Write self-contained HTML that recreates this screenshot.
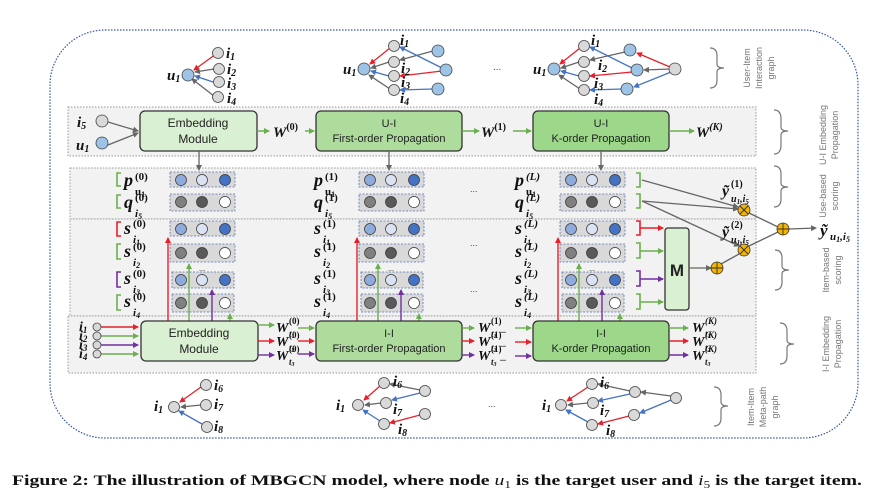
<!DOCTYPE html>
<html><head><meta charset="utf-8"><style>
html,body{margin:0;padding:0;background:#fff;}
svg{display:block;}
.m{font-family:"Liberation Serif",serif;font-weight:bold;font-style:italic;fill:#111;}
.n{font-family:"Liberation Serif",serif;font-weight:bold;fill:#111;}
.sf{font-family:"Liberation Sans",sans-serif;}
.lab{font-family:"Liberation Sans",sans-serif;font-size:9px;fill:#777;}
</style></head><body>
<svg width="875" height="499" viewBox="0 0 875 499" xmlns="http://www.w3.org/2000/svg">
<defs>
<marker id="ag" markerWidth="6" markerHeight="6" refX="5" refY="3" orient="auto" markerUnits="userSpaceOnUse"><path d="M0,0 L6,3 L0,6z" fill="#666"/></marker>
<marker id="ar" markerWidth="6" markerHeight="6" refX="5" refY="3" orient="auto" markerUnits="userSpaceOnUse"><path d="M0,0 L6,3 L0,6z" fill="#e8202a"/></marker>
<marker id="ab" markerWidth="6" markerHeight="6" refX="5" refY="3" orient="auto" markerUnits="userSpaceOnUse"><path d="M0,0 L6,3 L0,6z" fill="#4472c4"/></marker>
<marker id="an" markerWidth="6" markerHeight="6" refX="5" refY="3" orient="auto" markerUnits="userSpaceOnUse"><path d="M0,0 L6,3 L0,6z" fill="#6ab04c"/></marker>
<marker id="ap" markerWidth="6" markerHeight="6" refX="5" refY="3" orient="auto" markerUnits="userSpaceOnUse"><path d="M0,0 L6,3 L0,6z" fill="#7030a0"/></marker>
</defs>

<rect x="50" y="30" width="808" height="408" rx="55" fill="none" stroke="#3355aa" stroke-width="1.2" stroke-dasharray="1.5,1.5"/>

<g fill="#f2f2f2" stroke="#999" stroke-dasharray="1.5,1.5" stroke-width="1">
<rect x="68" y="107" width="688" height="49"/>
<rect x="70" y="168" width="686" height="51"/>
<rect x="70" y="219" width="686" height="97"/>
<rect x="68" y="316" width="688" height="57"/>
</g>

<!-- top graphs -->
<g stroke-width="1.3" fill="none">
<line x1="216" y1="54" x2="194" y2="70" stroke="#e8202a" marker-end="url(#ar)"/>
<line x1="214" y1="69" x2="195" y2="72" stroke="#666" marker-end="url(#ag)"/>
<line x1="213" y1="82" x2="195" y2="76" stroke="#4472c4" marker-end="url(#ab)"/>
<line x1="214" y1="96" x2="192" y2="79" stroke="#666" marker-end="url(#ag)"/>
<line x1="390" y1="48" x2="370" y2="64" stroke="#e8202a" marker-end="url(#ar)"/>
<line x1="389" y1="62" x2="371" y2="68" stroke="#666" marker-end="url(#ag)"/>
<line x1="389" y1="76" x2="371" y2="71" stroke="#4472c4" marker-end="url(#ab)"/>
<line x1="390" y1="89" x2="369" y2="75" stroke="#666" marker-end="url(#ag)"/>
<line x1="433" y1="51" x2="400" y2="60" stroke="#666" marker-end="url(#ag)"/>
<line x1="442" y1="68" x2="400" y2="47" stroke="#4472c4" marker-end="url(#ab)"/>
<line x1="442" y1="71" x2="400" y2="76" stroke="#e8202a" marker-end="url(#ar)"/>
<line x1="433" y1="89" x2="400" y2="90" stroke="#4472c4" marker-end="url(#ab)"/>
<line x1="580" y1="48" x2="560" y2="64" stroke="#e8202a" marker-end="url(#ar)"/>
<line x1="579" y1="62" x2="561" y2="68" stroke="#666" marker-end="url(#ag)"/>
<line x1="579" y1="76" x2="561" y2="71" stroke="#4472c4" marker-end="url(#ab)"/>
<line x1="580" y1="89" x2="559" y2="75" stroke="#666" marker-end="url(#ag)"/>
<line x1="625" y1="52" x2="590" y2="60" stroke="#666" marker-end="url(#ag)"/>
<line x1="632" y1="68" x2="590" y2="47" stroke="#4472c4" marker-end="url(#ab)"/>
<line x1="632" y1="72" x2="590" y2="76" stroke="#e8202a" marker-end="url(#ar)"/>
<line x1="622" y1="89" x2="590" y2="90" stroke="#4472c4" marker-end="url(#ab)"/>
<line x1="670" y1="67" x2="637" y2="53" stroke="#e8202a" marker-end="url(#ar)"/>
<line x1="670" y1="69" x2="644" y2="70" stroke="#666" marker-end="url(#ag)"/>
<line x1="671" y1="72" x2="634" y2="87" stroke="#4472c4" marker-end="url(#ab)"/>
</g>
<g stroke="#444" stroke-width="0.8">
<circle cx="188" cy="75" r="6" fill="#9dc3e6"/>
<circle cx="218" cy="53" r="5.5" fill="#d9d9d9"/><circle cx="219" cy="69" r="5.5" fill="#d9d9d9"/><circle cx="219" cy="82" r="5.5" fill="#d9d9d9"/><circle cx="218" cy="97" r="5.5" fill="#d9d9d9"/>
<circle cx="364" cy="69" r="6" fill="#9dc3e6"/>
<circle cx="394" cy="46" r="5.5" fill="#d9d9d9"/><circle cx="394" cy="62" r="5.5" fill="#d9d9d9"/><circle cx="394" cy="76" r="5.5" fill="#d9d9d9"/><circle cx="394" cy="90" r="5.5" fill="#d9d9d9"/>
<circle cx="438" cy="51" r="6" fill="#9dc3e6"/><circle cx="446" cy="70" r="6" fill="#9dc3e6"/><circle cx="438" cy="89" r="6" fill="#9dc3e6"/>
<circle cx="554" cy="69" r="6" fill="#9dc3e6"/>
<circle cx="584" cy="46" r="5.5" fill="#d9d9d9"/><circle cx="584" cy="62" r="5.5" fill="#d9d9d9"/><circle cx="584" cy="76" r="5.5" fill="#d9d9d9"/><circle cx="584" cy="90" r="5.5" fill="#d9d9d9"/>
<circle cx="630" cy="50" r="6" fill="#9dc3e6"/><circle cx="637" cy="70" r="6" fill="#9dc3e6"/><circle cx="627" cy="89" r="6" fill="#9dc3e6"/>
<circle cx="675" cy="69" r="6" fill="#d9d9d9"/>
</g>
<g class="m" font-size="15">
<text x="226" y="58">i<tspan font-size="10" dy="2">1</tspan></text>
<text x="227" y="74">i<tspan font-size="10" dy="2">2</tspan></text>
<text x="227" y="88">i<tspan font-size="10" dy="2">3</tspan></text>
<text x="227" y="103">i<tspan font-size="10" dy="2">4</tspan></text>
<text x="167" y="80">u<tspan font-size="10" dy="2">1</tspan></text>
<text x="400" y="45">i<tspan font-size="10" dy="2">1</tspan></text>
<text x="401" y="73">i<tspan font-size="10" dy="2">2</tspan></text>
<text x="401" y="87">i<tspan font-size="10" dy="2">3</tspan></text>
<text x="400" y="103">i<tspan font-size="10" dy="2">4</tspan></text>
<text x="343" y="74">u<tspan font-size="10" dy="2">1</tspan></text>
<text x="591" y="45">i<tspan font-size="10" dy="2">1</tspan></text>
<text x="598" y="70">i<tspan font-size="10" dy="2">2</tspan></text>
<text x="594" y="88">i<tspan font-size="10" dy="2">3</tspan></text>
<text x="594" y="104">i<tspan font-size="10" dy="2">4</tspan></text>
<text x="533" y="74">u<tspan font-size="10" dy="2">1</tspan></text>
</g>
<text x="493" y="70" font-size="10" fill="#444" class="sf">...</text>

<!-- band1 -->
<g stroke="#666" stroke-width="1.3">
<line x1="108" y1="122" x2="138" y2="131" marker-end="url(#ag)"/>
<line x1="108" y1="145" x2="138" y2="133" marker-end="url(#ag)"/>
</g>
<circle cx="102" cy="121" r="6" fill="#d9d9d9" stroke="#444" stroke-width="0.8"/>
<circle cx="102" cy="143" r="6" fill="#9dc3e6" stroke="#444" stroke-width="0.8"/>
<g class="m" font-size="15"><text x="77" y="127">i<tspan font-size="10" dy="2">5</tspan></text><text x="76" y="150">u<tspan font-size="10" dy="2">1</tspan></text></g>
<g stroke="#333" stroke-width="1.3">
<rect x="140" y="111" width="117" height="40" rx="5" fill="#daf0d2"/>
<rect x="316" y="111" width="146" height="40" rx="5" fill="#addc9c"/>
<rect x="533" y="111" width="136" height="40" rx="5" fill="#9dd78a"/>
</g>
<g class="sf" font-size="11" text-anchor="middle" fill="#222">
<text x="198" y="127" font-size="12">Embedding</text><text x="198" y="143" font-size="12">Module</text>
<text x="389" y="127">U-I</text><text x="389" y="142">First-order Propagation</text>
<text x="601" y="127">U-I</text><text x="601" y="142">K-order Propagation</text>
</g>
<g stroke="#6ab04c" stroke-width="1.5">
<line x1="257" y1="131" x2="269" y2="131" marker-end="url(#an)"/>
<line x1="305" y1="131" x2="314" y2="131" marker-end="url(#an)"/>
<line x1="462" y1="131" x2="479" y2="131" marker-end="url(#an)"/>
<line x1="513" y1="131" x2="531" y2="131" marker-end="url(#an)"/>
<line x1="669" y1="131" x2="694" y2="131" marker-end="url(#an)"/>
</g>
<g class="m" font-size="15">
<text x="273" y="137">W<tspan font-size="10" dy="-7" font-style="normal">(0)</tspan></text>
<text x="481" y="137">W<tspan font-size="10" dy="-7" font-style="normal">(1)</tspan></text>
<text x="696" y="137">W<tspan font-size="10" dy="-7">(K)</tspan></text>
</g>
<g stroke="#666" stroke-width="1.3">
<line x1="199" y1="151" x2="199" y2="170" marker-end="url(#ag)"/>
<line x1="389" y1="151" x2="389" y2="170" marker-end="url(#ag)"/>
<line x1="601" y1="151" x2="601" y2="170" marker-end="url(#ag)"/>
</g>

<!-- vector boxes -->
<g id="vb">
<g fill="#d9d9d9" stroke="#5570b0" stroke-width="0.8" stroke-dasharray="2,1.5">
<rect x="170" y="172" width="65" height="15"/><rect x="170" y="194" width="65" height="17"/>
<rect x="170" y="221" width="65" height="15"/><rect x="170" y="244" width="65" height="18"/>
<rect x="172" y="272" width="62" height="16"/><rect x="172" y="294" width="62" height="18"/>
</g>
<g stroke="#333" stroke-width="0.7">
<circle cx="181" cy="180" r="5.5" fill="#8faadc"/><circle cx="202" cy="180" r="5.5" fill="#dae3f3"/><circle cx="225" cy="180" r="5.5" fill="#4472c4"/>
<circle cx="181" cy="202" r="5.5" fill="#808080"/><circle cx="202" cy="202" r="5.5" fill="#595959"/><circle cx="225" cy="202" r="5.5" fill="#fff"/>
<circle cx="181" cy="229" r="5.5" fill="#8faadc"/><circle cx="202" cy="229" r="5.5" fill="#dae3f3"/><circle cx="225" cy="229" r="5.5" fill="#4472c4"/>
<circle cx="181" cy="253" r="5.5" fill="#808080"/><circle cx="202" cy="253" r="5.5" fill="#595959"/><circle cx="225" cy="253" r="5.5" fill="#fff"/>
<circle cx="181" cy="280" r="5.5" fill="#8faadc"/><circle cx="202" cy="280" r="5.5" fill="#dae3f3"/><circle cx="225" cy="280" r="5.5" fill="#4472c4"/>
<circle cx="181" cy="303" r="5.5" fill="#808080"/><circle cx="202" cy="303" r="5.5" fill="#595959"/><circle cx="225" cy="303" r="5.5" fill="#fff"/>
</g>
<text x="199" y="271" font-size="8" fill="#444">...</text>
<g stroke-width="1.4">
<line x1="168" y1="321" x2="168" y2="238" stroke="#e8202a" marker-end="url(#ar)"/>
<line x1="189" y1="321" x2="189" y2="264" stroke="#6ab04c" marker-end="url(#an)"/>
<line x1="212" y1="321" x2="212" y2="290" stroke="#7030a0" marker-end="url(#ap)"/>
<line x1="230" y1="321" x2="230" y2="314" stroke="#6ab04c" marker-end="url(#an)"/>
</g>
</g>
<use href="#vb" x="189" y="0"/>
<use href="#vb" x="390" y="0"/>

<!-- labels -->
<g id="lb">
<g class="m" font-size="18">
<text x="124" y="186">p</text><text x="124" y="208">q</text>
<text x="124" y="234">s</text><text x="124" y="257">s</text>
<text x="124" y="284">s</text><text x="124" y="307">s</text>
</g>
<g class="m" font-size="11">
<text x="135" y="195" font-style="normal">u<tspan font-size="8" dy="2">1</tspan></text><text x="135" y="217">i<tspan font-size="8" dy="2">5</tspan></text>
<text x="133" y="243">i<tspan font-size="8" dy="2">1</tspan></text><text x="133" y="266">i<tspan font-size="8" dy="2">2</tspan></text>
<text x="133" y="293">i<tspan font-size="8" dy="2">3</tspan></text><text x="133" y="316">i<tspan font-size="8" dy="2">4</tspan></text>
</g>
</g>
<use href="#lb" x="190" y="0"/>
<use href="#lb" x="391" y="0"/>
<g class="n" font-size="11">
<text x="135" y="180">(0)</text><text x="135" y="201">(0)</text><text x="133" y="227">(0)</text><text x="133" y="250">(0)</text><text x="133" y="277">(0)</text><text x="133" y="300">(0)</text>
<text x="325" y="180">(1)</text><text x="325" y="201">(1)</text><text x="323" y="227">(1)</text><text x="323" y="250">(1)</text><text x="323" y="277">(1)</text><text x="323" y="300">(1)</text>
</g>
<g class="m" font-size="11">
<text x="526" y="180">(L)</text><text x="526" y="201">(L)</text><text x="524" y="227">(L)</text><text x="524" y="250">(L)</text><text x="524" y="277">(L)</text><text x="524" y="300">(L)</text>
</g>
<g class="sf" font-size="9" fill="#444"><text x="470" y="192">...</text><text x="470" y="246">...</text><text x="470" y="292">...</text><text x="488" y="407">...</text></g>

<g fill="none" stroke-width="1.6">
<path d="M121,173 h-4 v13 h4" stroke="#6ab04c"/>
<path d="M121,195 h-4 v13 h4" stroke="#6ab04c"/>
<path d="M121,222 h-4 v14 h4" stroke="#e8202a"/>
<path d="M121,244 h-4 v15 h4" stroke="#6ab04c"/>
<path d="M121,272 h-4 v15 h4" stroke="#7030a0"/>
<path d="M121,295 h-4 v15 h4" stroke="#6ab04c"/>
<path d="M636,173 h4 v14 h-4" stroke="#6ab04c"/>
<path d="M636,194 h4 v14 h-4" stroke="#6ab04c"/>
<path d="M636,221 h4 v14 h-4" stroke="#e8202a"/>
<path d="M636,243 h4 v15 h-4" stroke="#6ab04c"/>
<path d="M636,271 h4 v15 h-4" stroke="#7030a0"/>
<path d="M636,294 h4 v15 h-4" stroke="#6ab04c"/>
</g>
<g stroke-width="1.4">
<line x1="640" y1="228" x2="663" y2="228" stroke="#e8202a" marker-end="url(#ar)"/>
<line x1="640" y1="251" x2="663" y2="251" stroke="#6ab04c" marker-end="url(#an)"/>
<line x1="640" y1="279" x2="663" y2="279" stroke="#7030a0" marker-end="url(#ap)"/>
<line x1="640" y1="302" x2="663" y2="302" stroke="#6ab04c" marker-end="url(#an)"/>
</g>
<rect x="665" y="228" width="24" height="82" rx="3" fill="#daf0d2" stroke="#333" stroke-width="1.3"/>
<text x="677" y="276" text-anchor="middle" class="sf" font-size="17" font-weight="bold" fill="#222">M</text>
<g stroke="#666" stroke-width="1.3" fill="none">
<line x1="642" y1="180" x2="738" y2="207" marker-end="url(#ag)"/>
<line x1="642" y1="201" x2="738" y2="209" marker-end="url(#ag)"/>
<line x1="642" y1="201" x2="739" y2="246" marker-end="url(#ag)"/>
<line x1="689" y1="268" x2="711" y2="268" marker-end="url(#ag)"/>
<line x1="721" y1="264" x2="739" y2="254"/>
<line x1="749" y1="213" x2="778" y2="227"/>
<line x1="749" y1="246" x2="778" y2="232"/>
<line x1="789" y1="229" x2="816" y2="228" marker-end="url(#ag)"/>
</g>
<g stroke="#333" stroke-width="0.8" fill="#f4b400">
<circle cx="744" cy="210" r="6"/><circle cx="744" cy="250" r="6"/><circle cx="717" cy="268" r="6"/><circle cx="783" cy="229" r="6"/>
</g>
<g stroke="#333" stroke-width="0.9">
<path d="M740,206 l8,8 M748,206 l-8,8 M740,246 l8,8 M748,246 l-8,8 M711,268 h12 M717,262 v12 M777,229 h12 M783,223 v12"/>
</g>
<g class="m">
<text x="722" y="196" font-size="16">ỹ</text><text x="731" y="187" font-size="10" font-style="normal">(1)</text><text x="731" y="202" font-size="10">u<tspan font-size="7" dy="2">1</tspan><tspan dy="-2">,i</tspan><tspan font-size="7" dy="2">5</tspan></text>
<text x="722" y="237" font-size="16">ỹ</text><text x="731" y="228" font-size="10" font-style="normal">(2)</text><text x="731" y="243" font-size="10">u<tspan font-size="7" dy="2">1</tspan><tspan dy="-2">,i</tspan><tspan font-size="7" dy="2">5</tspan></text>
<text x="820" y="236" font-size="17">ỹ</text><text x="830" y="240" font-size="11">u<tspan font-size="8" dy="2">1</tspan><tspan dy="-2">,i</tspan><tspan font-size="8" dy="2">5</tspan></text>
</g>

<!-- band4 -->
<g stroke-width="1.4">
<line x1="101" y1="327" x2="138" y2="327" stroke="#e8202a" marker-end="url(#ar)"/>
<line x1="101" y1="336" x2="138" y2="336" stroke="#6ab04c" marker-end="url(#an)"/>
<line x1="101" y1="345" x2="138" y2="345" stroke="#7030a0" marker-end="url(#ap)"/>
<line x1="101" y1="354" x2="138" y2="354" stroke="#6ab04c" marker-end="url(#an)"/>
</g>
<g fill="#d9d9d9" stroke="#444" stroke-width="0.8">
<circle cx="97" cy="327" r="4"/><circle cx="97" cy="336" r="4"/><circle cx="97" cy="345" r="4"/><circle cx="97" cy="354" r="4"/>
</g>
<g class="m" font-size="14">
<text x="79" y="331">i<tspan font-size="9" dy="2">1</tspan></text>
<text x="79" y="340">i<tspan font-size="9" dy="2">2</tspan></text>
<text x="79" y="349">i<tspan font-size="9" dy="2">3</tspan></text>
<text x="79" y="358">i<tspan font-size="9" dy="2">4</tspan></text>
</g>
<g stroke="#333" stroke-width="1.3">
<rect x="141" y="321" width="117" height="40" rx="5" fill="#daf0d2"/>
<rect x="316" y="321" width="146" height="40" rx="5" fill="#addc9c"/>
<rect x="533" y="321" width="136" height="40" rx="5" fill="#9dd78a"/>
</g>
<g class="sf" font-size="11" text-anchor="middle" fill="#222">
<text x="199" y="337" font-size="12">Embedding</text><text x="199" y="353" font-size="12">Module</text>
<text x="389" y="337">I-I</text><text x="389" y="352">First-order Propagation</text>
<text x="601" y="337">I-I</text><text x="601" y="352">K-order Propagation</text>
</g>
<g stroke-width="1.4">
<line x1="258" y1="325" x2="274" y2="325" stroke="#6ab04c" marker-end="url(#an)"/>
<line x1="258" y1="341" x2="274" y2="341" stroke="#e8202a" marker-end="url(#ar)"/>
<line x1="258" y1="355" x2="274" y2="355" stroke="#7030a0" marker-end="url(#ap)"/>
<line x1="298" y1="328" x2="314" y2="328" stroke="#6ab04c" marker-end="url(#an)"/>
<line x1="298" y1="341" x2="314" y2="341" stroke="#e8202a" marker-end="url(#ar)"/>
<line x1="298" y1="354" x2="314" y2="354" stroke="#7030a0" marker-end="url(#ap)"/>
<line x1="462" y1="328" x2="474" y2="328" stroke="#6ab04c" marker-end="url(#an)"/>
<line x1="462" y1="341" x2="474" y2="341" stroke="#e8202a" marker-end="url(#ar)"/>
<line x1="462" y1="355" x2="474" y2="355" stroke="#7030a0" marker-end="url(#ap)"/>
<line x1="515" y1="328" x2="531" y2="328" stroke="#6ab04c" marker-end="url(#an)"/>
<line x1="515" y1="342" x2="531" y2="342" stroke="#e8202a" marker-end="url(#ar)"/>
<line x1="515" y1="356" x2="531" y2="356" stroke="#7030a0" marker-end="url(#ap)"/>
<line x1="669" y1="328" x2="688" y2="328" stroke="#6ab04c" marker-end="url(#an)"/>
<line x1="669" y1="341" x2="688" y2="341" stroke="#e8202a" marker-end="url(#ar)"/>
<line x1="669" y1="355" x2="688" y2="355" stroke="#7030a0" marker-end="url(#ap)"/>
</g>
<g id="wl">
<g class="m" font-size="14"><text x="276" y="332">W</text><text x="276" y="346">W</text><text x="276" y="360">W</text></g>
<g class="m" font-size="9"><text x="289" y="337">t<tspan font-size="6" dy="1">1</tspan></text><text x="289" y="351">t<tspan font-size="6" dy="1">2</tspan></text><text x="289" y="365">t<tspan font-size="6" dy="1">3</tspan></text></g>
</g>
<use href="#wl" x="202" y="0"/>
<use href="#wl" x="416" y="0"/>
<g class="n" font-size="9">
<text x="289" y="324">(0)</text><text x="289" y="338">(0)</text><text x="289" y="352">(0)</text>
<text x="491" y="324">(1)</text><text x="491" y="338">(1)</text><text x="491" y="352">(1)</text>
</g>
<g class="n" font-size="8"><text x="500" y="333">...</text><text x="500" y="347">...</text><text x="500" y="361">...</text></g>
<g class="m" font-size="9"><text x="705" y="324">(K)</text><text x="705" y="338">(K)</text><text x="705" y="352">(K)</text></g>

<!-- bottom graphs -->
<g stroke-width="1.3">
<line x1="201" y1="387" x2="180" y2="402" stroke="#e8202a" marker-end="url(#ar)"/>
<line x1="201" y1="405" x2="181" y2="407" stroke="#666" marker-end="url(#ag)"/>
<line x1="202" y1="424" x2="179" y2="411" stroke="#4472c4" marker-end="url(#ab)"/>
<line x1="380" y1="386" x2="364" y2="400" stroke="#e8202a" marker-end="url(#ar)"/>
<line x1="381" y1="403" x2="365" y2="405" stroke="#666" marker-end="url(#ag)"/>
<line x1="380" y1="421" x2="363" y2="410" stroke="#4472c4" marker-end="url(#ab)"/>
<line x1="420" y1="390" x2="390" y2="384" stroke="#666" marker-end="url(#ag)"/>
<line x1="420" y1="393" x2="392" y2="400" stroke="#4472c4" marker-end="url(#ab)"/>
<line x1="420" y1="415" x2="390" y2="423" stroke="#e8202a" marker-end="url(#ar)"/>
<line x1="588" y1="387" x2="567" y2="401" stroke="#e8202a" marker-end="url(#ar)"/>
<line x1="588" y1="403" x2="568" y2="405" stroke="#666" marker-end="url(#ag)"/>
<line x1="588" y1="422" x2="566" y2="410" stroke="#4472c4" marker-end="url(#ab)"/>
<line x1="630" y1="391" x2="598" y2="384" stroke="#666" marker-end="url(#ag)"/>
<line x1="630" y1="394" x2="598" y2="401" stroke="#4472c4" marker-end="url(#ab)"/>
<line x1="629" y1="416" x2="598" y2="424" stroke="#e8202a" marker-end="url(#ar)"/>
<line x1="671" y1="396" x2="641" y2="392" stroke="#666" marker-end="url(#ag)"/>
<line x1="671" y1="400" x2="640" y2="413" stroke="#4472c4" marker-end="url(#ab)"/>
</g>
<g fill="#d9d9d9" stroke="#444" stroke-width="0.8">
<circle cx="174" cy="407" r="5.5"/><circle cx="206" cy="385" r="5.5"/><circle cx="206" cy="405" r="5.5"/><circle cx="207" cy="427" r="5.5"/>
<circle cx="358" cy="405" r="5.5"/><circle cx="384" cy="383" r="5.5"/><circle cx="386" cy="403" r="5.5"/><circle cx="384" cy="424" r="5.5"/><circle cx="425" cy="391" r="5.5"/><circle cx="425" cy="414" r="5.5"/>
<circle cx="561" cy="405" r="5.5"/><circle cx="592" cy="384" r="5.5"/><circle cx="593" cy="403" r="5.5"/><circle cx="592" cy="425" r="5.5"/><circle cx="635" cy="392" r="5.5"/><circle cx="634" cy="415" r="5.5"/><circle cx="676" cy="398" r="5.5"/>
</g>
<g class="m" font-size="15">
<text x="154" y="411">i<tspan font-size="10" dy="2">1</tspan></text>
<text x="214" y="390">i<tspan font-size="10" dy="2">6</tspan></text>
<text x="214" y="409">i<tspan font-size="10" dy="2">7</tspan></text>
<text x="214" y="431">i<tspan font-size="10" dy="2">8</tspan></text>
<text x="336" y="410">i<tspan font-size="10" dy="2">1</tspan></text>
<text x="393" y="386">i<tspan font-size="10" dy="2">6</tspan></text>
<text x="393" y="414">i<tspan font-size="10" dy="2">7</tspan></text>
<text x="398" y="434">i<tspan font-size="10" dy="2">8</tspan></text>
<text x="542" y="410">i<tspan font-size="10" dy="2">1</tspan></text>
<text x="600" y="387">i<tspan font-size="10" dy="2">6</tspan></text>
<text x="600" y="415">i<tspan font-size="10" dy="2">7</tspan></text>
<text x="606" y="435">i<tspan font-size="10" dy="2">8</tspan></text>
</g>

<g fill="none" stroke="#777" stroke-width="1.2">
<path d="M710,48 Q717,48 717,56 L717,64 Q717,68 724,68 Q717,68 717,72 L717,80 Q717,88 710,88"/>
<path d="M774,110 Q781,110 781,119 L781,127 Q781,131 788,131 Q781,131 781,135 L781,145 Q781,154 774,154"/>
<path d="M774,166 Q781,166 781,174 L781,183 Q781,187 788,187 Q781,187 781,191 L781,199 Q781,207 774,207"/>
<path d="M775,250 Q782,250 782,258 L782,266 Q782,270 789,270 Q782,270 782,274 L782,282 Q782,290 775,290"/>
<path d="M780,323 Q787,323 787,331 L787,340 Q787,344 794,344 Q787,344 787,348 L787,356 Q787,364 780,364"/>
<path d="M714,387 Q721,387 721,395 L721,402 Q721,406 728,406 Q721,406 721,410 L721,418 Q721,426 714,426"/>
</g>
<g class="lab" text-anchor="middle">
<text transform="translate(750,68) rotate(-90)">User-Item</text>
<text transform="translate(762,68) rotate(-90)">Interaction</text>
<text transform="translate(774,68) rotate(-90)">graph</text>
<text transform="translate(826,135) rotate(-90)">U-I Embedding</text>
<text transform="translate(838,135) rotate(-90)">Propagation</text>
<text transform="translate(826,196) rotate(-90)">Use-based</text>
<text transform="translate(838,196) rotate(-90)">scoring</text>
<text transform="translate(829,270) rotate(-90)">Item-based</text>
<text transform="translate(841,270) rotate(-90)">scoring</text>
<text transform="translate(829,344) rotate(-90)">I-I Embedding</text>
<text transform="translate(841,344) rotate(-90)">Propagation</text>
<text transform="translate(754,407) rotate(-90)">Item-Item</text>
<text transform="translate(766,407) rotate(-90)">Meta-path</text>
<text transform="translate(778,407) rotate(-90)">graph</text>
</g>

<text x="12" y="485" font-family="Liberation Serif, serif" font-weight="bold" font-size="15" fill="#111" textLength="850" lengthAdjust="spacingAndGlyphs">Figure 2: The illustration of MBGCN model, where node <tspan font-style="italic" font-weight="normal">u</tspan><tspan font-weight="normal" font-size="10" dy="3">1</tspan><tspan dy="-3"> is the target user and </tspan><tspan font-style="italic" font-weight="normal">i</tspan><tspan font-weight="normal" font-size="10" dy="3">5</tspan><tspan dy="-3"> is the target item.</tspan></text>
</svg>
</body></html>
